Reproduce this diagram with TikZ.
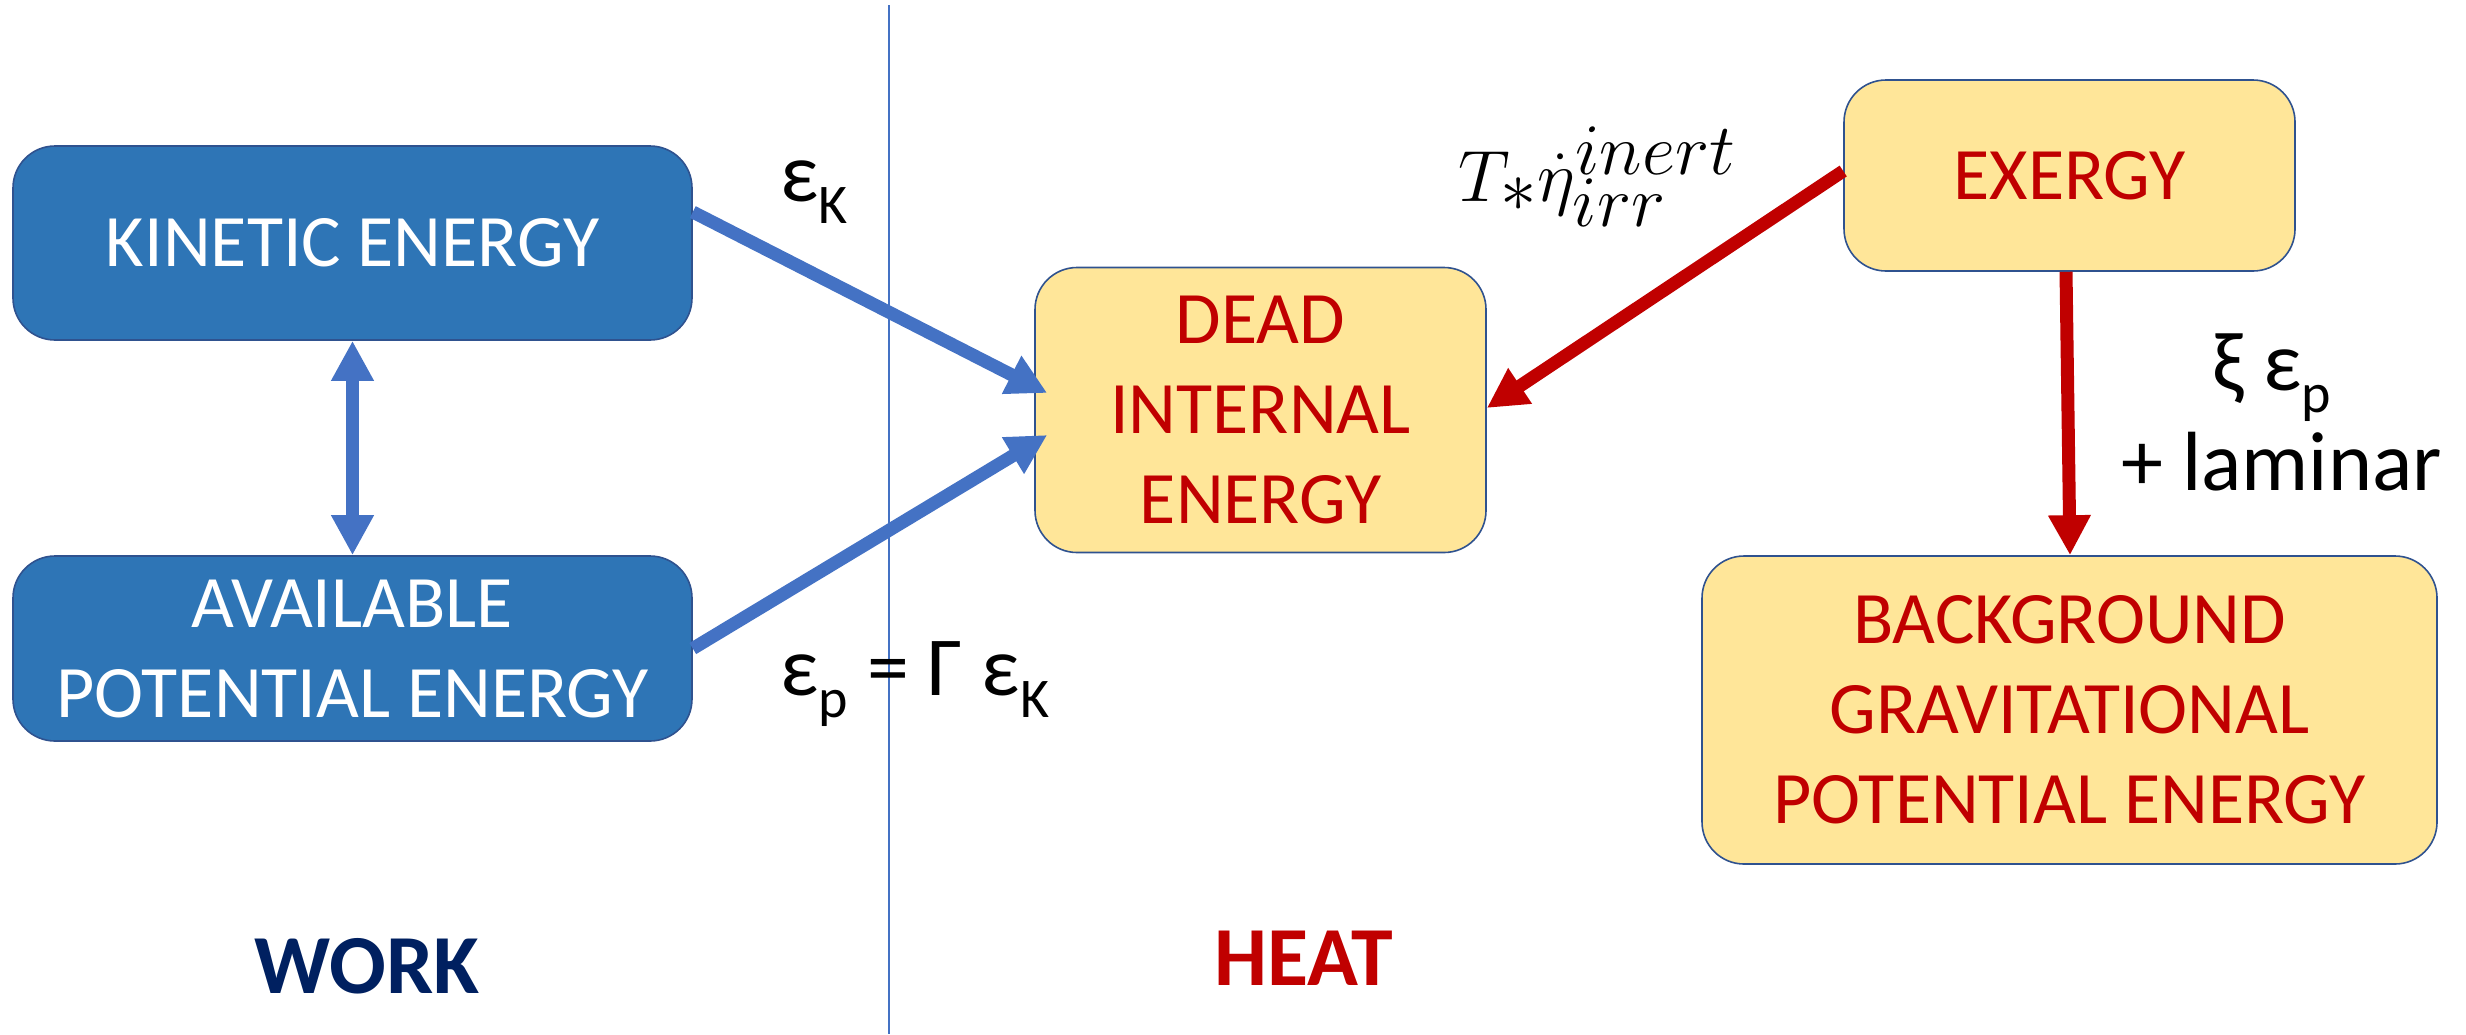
\documentclass[tikz,border=0pt]{standalone}
\usepackage{graphicx}
\usepackage{fontspec}
\setmainfont{Carlito}
\usetikzlibrary{arrows.meta,calc}
\definecolor{boxblue}{HTML}{2E75B6}
\definecolor{edgeblue}{HTML}{2F528F}
\definecolor{arrblue}{HTML}{4472C4}
\definecolor{boxyel}{HTML}{FFE699}
\definecolor{darkred}{HTML}{C00000}
\definecolor{navy}{HTML}{002060}
\newcommand\sbs[1]{\raisebox{-0.27em}{\fontsize{28}{28}\selectfont #1}}
\begin{document}
\begin{tikzpicture}[x=0.5pt,y=-0.5pt,
  basebox/.style={draw=edgeblue, line width=0.8pt, rounded corners=21pt, align=center,
    font=\fontsize{37}{45}\selectfont, inner sep=0pt},
  bluebox/.style={basebox, fill=boxblue, text=white},
  yelbox/.style={basebox, fill=boxyel, text=darkred},
  flowblue/.style={draw=arrblue, line width=6.5pt, -{Triangle[length=20pt,width=20pt]}},
  flowred/.style={draw=darkred, line width=6.5pt, -{Triangle[length=20pt,width=20pt]}},
  lbl/.style={font=\fontsize{42}{50}\selectfont, inner sep=0pt, anchor=base west},
  big/.style={font=\fontsize{42}{50}\selectfont\bfseries, inner sep=0pt, anchor=base}
]
\useasboundingbox (0,0) rectangle (2466,1034);

\node[bluebox, minimum width=339.5pt, minimum height=97pt] (ke) at (352.5,243) {KINETIC ENERGY};
\node[bluebox, minimum width=339.5pt, minimum height=92.5pt] (ape) at (352.5,648.5) {AVAILABLE\\POTENTIAL ENERGY};
\node[yelbox, minimum width=225.5pt, minimum height=142.5pt] (die) at (1260.5,410) {DEAD\\INTERNAL\\ENERGY};
\node[yelbox, minimum width=225.5pt, minimum height=95.5pt] (ex) at (2069.5,175.5) {EXERGY};
\node[yelbox, minimum width=367.5pt, minimum height=154pt] (bg) at (2069.5,710) {BACKGROUND\\GRAVITATIONAL\\POTENTIAL ENERGY};

\coordinate (vtop) at (889,5);
\coordinate (vbot) at (889,1034);
\draw[arrblue, line width=0.75pt] (vtop) -- (vbot);

\draw[flowblue] ($(ke.east)+(0,-31)$) -- ($(die.west)+(13,-17)$);
\draw[flowblue] (ape.east) -- ($(die.west)+(13,25)$);
\draw[draw=arrblue, line width=6.5pt, {Triangle[length=20pt,width=20pt]}-{Triangle[length=20pt,width=20pt]}] (ke.south) -- (ape.north);
\draw[flowred] ($(ex.west)+(0,-4.5)$) -- ($(die.east)+(0,-2)$);
\draw[flowred] ($(ex.south)+(-3.5,0)$) -- ($(bg.north)+(0.5,0)$);

\node[lbl] (lk) at (780,201) {ε\sbs{K}};
\node[lbl] (lp) at (780,695) {ε\sbs{p} = Γ ε\sbs{K}};
\node[lbl] (lx) at (2212,390) {ξ ε\sbs{p}};
\node[lbl] (ll) at (2121,490) {+ laminar};
\node[inner sep=0pt, anchor=base west, font=\fontsize{41}{49}\selectfont] (lt) at (1458,201) {\scalebox{1.46}{$T_*\dot{\eta}_{irr}^{inert}$}};

\node[big, text=navy] (work) at (367,993) {WORK};
\node[big, text=darkred] (heat) at (1304,985) {HEAT};
\end{tikzpicture}
\end{document}
